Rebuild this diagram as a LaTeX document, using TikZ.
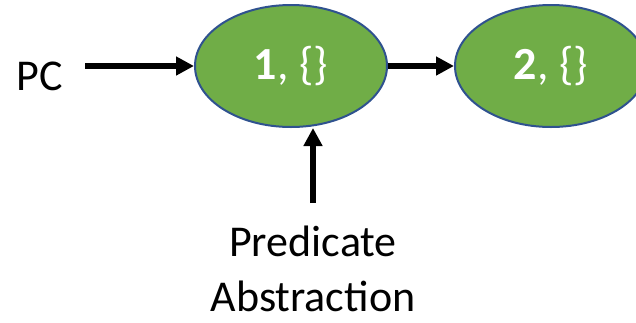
\documentclass[tikz,border=0pt]{standalone}
\usepackage{fontspec}
\setmainfont{Carlito}
\usetikzlibrary{shapes.geometric,arrows.meta}
\definecolor{stategreen}{RGB}{112,173,71}
\definecolor{stateblue}{RGB}{47,82,143}
\tikzset{
  statenode/.style={ellipse, draw=stateblue, fill=stategreen, line width=2pt,
    minimum width=192pt, minimum height=122pt, inner sep=0pt, text=white,
    font=\fontsize{46}{55}\selectfont},
  lbl/.style={inner sep=0pt, font=\fontsize{44}{55}\selectfont, align=center},
  arr/.style={line width=6pt, -{Triangle[length=18pt,width=18pt]}}
}
\begin{document}
\begin{tikzpicture}[x=1pt,y=-1pt]
\clip (0,0) rectangle (636,322);
\useasboundingbox (0,0) rectangle (636,322);
\node[statenode] (e1) at (291,66) {\textbf{1}, \{\}};
\node[statenode] (e2) at (551,66) {\textbf{2}, \{\}};
\node[lbl] (pc) at (40,76) {PC};
\node[lbl] (pa) at (313,269) {Predicate\\Abstraction};
\coordinate (pcs) at (85,66);
\coordinate (pas) at (313,203);
\draw[arr] (pcs) -- (e1.west);
\draw[arr] (e1.east) -- (e2.west);
\draw[arr] (pas) -- (pas |- e1.south);
\end{tikzpicture}
\end{document}
